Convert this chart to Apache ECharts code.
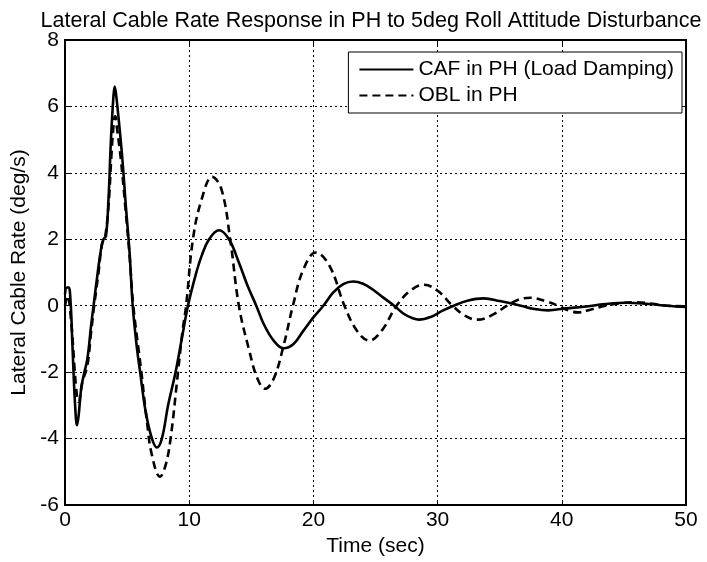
<!DOCTYPE html>
<html>
<head>
<meta charset="utf-8">
<script src="https://cdn.jsdelivr.net/npm/echarts@6/dist/echarts.min.js"></script>
<style>
html,body{margin:0;padding:0;background:#fff;}
#chart{width:707px;height:562px;}
</style>
</head>
<body>
<div id="chart"></div>
<script>
// ---- data ----
const chartTitle = 'Lateral Cable Rate Response in PH to 5deg Roll Attitude Disturbance';
const xAxisName = 'Time (sec)';
const yAxisName = 'Lateral Cable Rate (deg/s)';
const seriesNames = ['CAF in PH (Load Damping)', 'OBL in PH'];
const xTicks = [0, 10, 20, 30, 40, 50];
const yTicks = [-6, -4, -2, 0, 2, 4, 6, 8];

const cafTime = [0, 0.15, 0.3, 0.45, 0.6, 0.8, 0.97, 1.1, 1.3, 1.5, 1.8, 2.1, 2.3, 2.6, 2.9, 3.1, 3.3, 3.5, 3.7, 3.9, 4.0, 4.1, 4.3, 4.6, 4.9, 5.2, 5.45, 5.8, 6.05, 6.5, 7.0, 7.4, 7.8, 8.3, 8.9, 9.4, 9.9, 10.5, 11.0, 11.6, 12.4, 13.2, 14.0, 14.7, 15.4, 16.0, 16.8, 17.6, 18.4, 19.2, 20.0, 20.8, 21.6, 22.4, 23.2, 24.0, 24.8, 25.6, 26.5, 27.3, 28.0, 28.5, 29.5, 30.4, 31.3, 32.4, 33.7, 35.0, 36.7, 37.8, 38.9, 40.3, 41.8, 43.5, 45.2, 47.0, 48.5, 50];
const cafRate = [0.35, 0.55, 0.55, 0.1, -1.2, -2.9, -3.6, -3.3, -2.5, -2.1, -1.6, -0.6, 0.0, 0.9, 1.7, 2.0, 2.1, 3.2, 5.0, 6.3, 6.6, 6.4, 5.7, 4.5, 3.0, 1.6, 0.0, -1.3, -2.0, -3.2, -4.0, -4.27, -4.0, -3.0, -2.0, -1.0, 0.0, 0.9, 1.5, 2.0, 2.27, 2.0, 1.3, 0.6, 0.0, -0.55, -1.05, -1.28, -1.15, -0.75, -0.35, 0.0, 0.4, 0.65, 0.73, 0.66, 0.48, 0.25, 0.0, -0.25, -0.38, -0.42, -0.33, -0.15, 0.0, 0.15, 0.22, 0.14, 0.0, -0.1, -0.14, -0.08, -0.03, 0.05, 0.09, 0.05, 0.0, -0.04];

const oblTime = [0, 0.2, 0.5, 0.9, 1.1, 1.4, 1.8, 2.1, 2.35, 2.7, 3.0, 3.2, 3.5, 3.75, 3.95, 4.05, 4.2, 4.5, 4.85, 5.2, 5.5, 6.15, 6.6, 7.0, 7.65, 8.1, 8.5, 9.1, 9.45, 9.75, 10.3, 11.0, 11.85, 12.6, 13.3, 14.0, 14.8, 15.5, 16.1, 16.8, 17.6, 18.35, 19.2, 20.2, 21.3, 22.5, 23.5, 24.5, 25.5, 26.7, 27.8, 28.9, 30.0, 31.2, 32.2, 33.2, 34.3, 35.6, 36.5, 37.5, 38.6, 39.7, 40.6, 41.3, 42.3, 43.5, 44.8, 46.0, 47.5, 48.5, 50];
const oblRate = [0.0, 0.3, -0.5, -2.5, -2.9, -2.3, -1.8, -0.8, 0.0, 1.0, 1.9, 2.0, 3.0, 4.6, 5.6, 5.7, 5.3, 4.4, 3.0, 1.5, 0.0, -2.0, -3.5, -4.5, -5.15, -4.8, -4.0, -2.0, -0.8, 0.0, 2.0, 3.2, 3.88, 3.5, 2.0, 0.0, -1.3, -2.2, -2.5, -2.2, -1.2, 0.0, 1.1, 1.6, 1.2, 0.0, -0.75, -1.05, -0.75, 0.0, 0.45, 0.63, 0.45, 0.0, -0.3, -0.42, -0.3, 0.0, 0.18, 0.24, 0.15, 0.0, -0.15, -0.2, -0.12, 0.0, 0.08, 0.1, 0.05, 0.0, -0.02];

// ---- chart ----
const FONT = 'Liberation Sans, Arial, Helvetica, sans-serif';
const FS = 21;
const cafData = cafTime.map((t, i) => [t, cafRate[i]]);
const oblData = oblTime.map((t, i) => [t, oblRate[i]]);

const chart = echarts.init(document.getElementById('chart'), null, {renderer: 'canvas'});

const xMin = xTicks[0], xMax = xTicks[xTicks.length - 1];
const yMin = yTicks[0], yMax = yTicks[yTicks.length - 1];

const tickStyle = {show: true, inside: true, length: 5, lineStyle: {color: '#000', width: 1}};
const axisLineStyle = {show: true, onZero: false, lineStyle: {color: '#000', width: 2}};
const gridLineStyle = {show: true, lineStyle: {color: '#000', type: [2, 3], width: 1}};

chart.setOption({
  backgroundColor: '#fff',
  animation: false,
  title: {
    text: chartTitle,
    left: 366, top: 5, textAlign: 'center',
    textStyle: {fontFamily: FONT, fontSize: 21.5, fontWeight: 'normal', color: '#000'}
  },
  legend: {
    right: 25, top: 52,
    orient: 'vertical',
    itemWidth: 54, itemHeight: 14, itemGap: 5,
    padding: [7, 8, 7, 10],
    borderColor: '#000', borderWidth: 1, backgroundColor: '#fff',
    itemStyle: {color: 'transparent', borderWidth: 0, opacity: 0},
    textStyle: {fontFamily: FONT, fontSize: FS, color: '#000'},
    data: seriesNames
  },
  grid: {left: 65, right: 21, top: 40, bottom: 56, show: true, borderColor: '#000', borderWidth: 2, backgroundColor: '#fff'},
  xAxis: [{
    type: 'value', min: xMin, max: xMax, interval: 10,
    name: xAxisName, nameLocation: 'middle', nameGap: 31,
    nameTextStyle: {fontFamily: FONT, fontSize: FS, color: '#000'},
    axisLine: axisLineStyle, axisTick: tickStyle,
    axisLabel: {fontFamily: FONT, fontSize: FS, color: '#000', margin: 5},
    splitLine: gridLineStyle
  }, {
    type: 'value', min: xMin, max: xMax, interval: 10, position: 'top',
    axisLine: axisLineStyle, axisTick: tickStyle,
    axisLabel: {show: false}, splitLine: {show: false}
  }],
  yAxis: [{
    type: 'value', min: yMin, max: yMax, interval: 2,
    name: yAxisName, nameLocation: 'middle', nameGap: 34,
    nameTextStyle: {fontFamily: FONT, fontSize: FS, color: '#000'},
    axisLine: axisLineStyle, axisTick: tickStyle,
    axisLabel: {fontFamily: FONT, fontSize: FS, color: '#000', margin: 6},
    splitLine: gridLineStyle
  }, {
    type: 'value', min: yMin, max: yMax, interval: 2, position: 'right',
    axisLine: axisLineStyle, axisTick: tickStyle,
    axisLabel: {show: false}, splitLine: {show: false}
  }],
  series: [{
    name: seriesNames[0], type: 'line', data: cafData,
    xAxisIndex: 0, yAxisIndex: 0,
    showSymbol: false, symbol: 'none', smooth: 0.4,
    lineStyle: {color: '#000', width: 2.6, type: 'solid'},
    itemStyle: {color: '#000'}
  }, {
    name: seriesNames[1], type: 'line', data: oblData,
    xAxisIndex: 0, yAxisIndex: 0,
    showSymbol: false, symbol: 'none', smooth: 0.4,
    lineStyle: {color: '#000', width: 2.6, type: [8, 5]},
    itemStyle: {color: '#000'}
  }]
});
</script>
</body>
</html>
